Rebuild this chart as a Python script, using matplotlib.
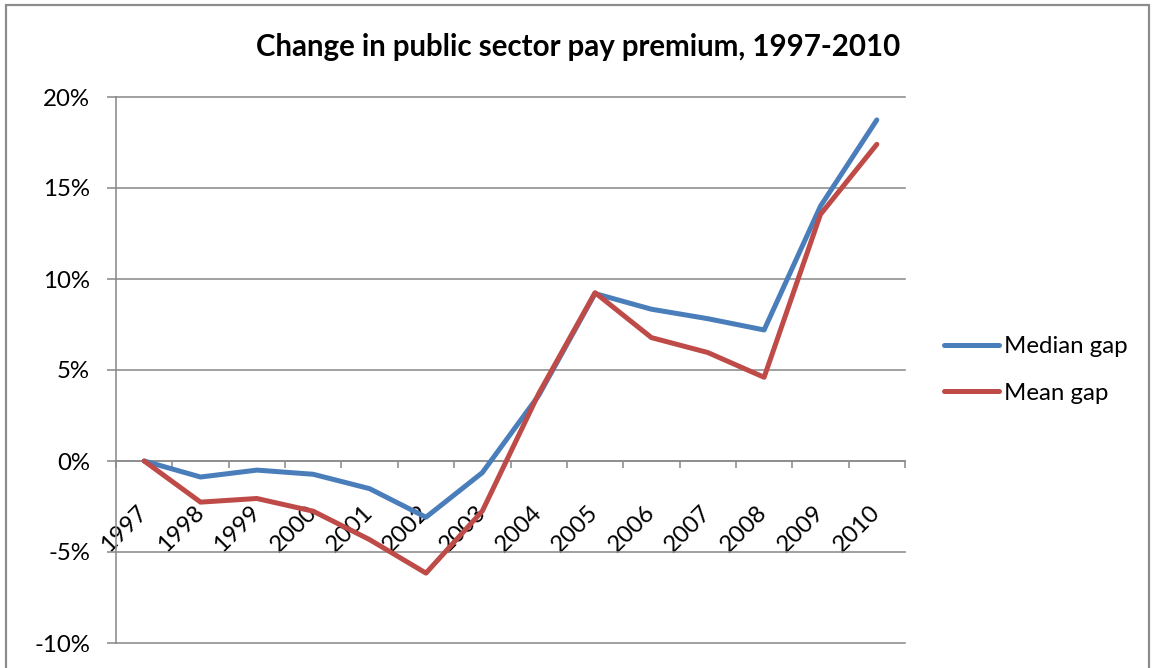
import matplotlib
matplotlib.use("Agg")
import matplotlib.pyplot as plt  # noqa: E402
import matplotlib.transforms as mtransforms  # noqa: E402
from matplotlib.lines import Line2D  # noqa: E402
from matplotlib.patches import Rectangle  # noqa: E402
from matplotlib.ticker import PercentFormatter  # noqa: E402

YEARS = [str(y) for y in range(1997, 2011)]
# change in the public sector pay premium since 1997, percentage points
MEDIAN_GAP = [0.0, -0.88, -0.50, -0.73, -1.52, -3.09, -0.64,
              3.6, 9.2, 8.34, 7.82, 7.2, 14.0, 18.74]
MEAN_GAP = [0.0, -2.26, -2.06, -2.76, -4.32, -6.16, -2.75,
            3.7, 9.25, 6.78, 5.96, 4.6, 13.55, 17.4]
Y_TICKS = [-10, -5, 0, 5, 10, 15, 20]

BLUE = "#4a7ebb"
RED = "#be4b48"
GREY = "#8c8c8c"
FONT = "Lato"

W, H, DPI = 1152, 668, 100


def px(n: float) -> float:
    """pixels -> points"""
    return n * 72 / DPI


def main() -> int:
    plt.rcParams["font.family"] = [FONT, "DejaVu Sans"]
    plt.rcParams["axes.unicode_minus"] = False
    fig = plt.figure(figsize=(W / DPI, H / DPI), dpi=DPI)
    ax = fig.add_axes([116 / W, 1 - 643 / H, (905 - 116) / W, (643 - 97) / H])

    x = list(range(len(YEARS)))
    ax.plot(x, MEDIAN_GAP, color=BLUE, lw=px(5), solid_joinstyle="round",
            solid_capstyle="round", zorder=3)
    ax.plot(x, MEAN_GAP, color=RED, lw=px(5), solid_joinstyle="round",
            solid_capstyle="round", zorder=4)

    ax.set_xlim(-0.5, len(YEARS) - 0.5)
    ax.set_ylim(Y_TICKS[0], Y_TICKS[-1])

    # y axis: grey gridlines every 5%
    ax.set_yticks(Y_TICKS)
    ax.yaxis.set_major_formatter(PercentFormatter(decimals=0))
    ax.yaxis.grid(True, color=GREY, lw=px(1.6))
    for gl in ax.get_ygridlines():
        gl.set_clip_on(False)
    ax.tick_params(axis="y", direction="out", length=px(9), width=px(1.6),
                   color=GREY, pad=px(17), labelsize=px(24))

    # category axis sits on the zero line
    for side in ("top", "right"):
        ax.spines[side].set_visible(False)
    ax.spines["bottom"].set_position(("data", 0))
    for side in ("left", "bottom"):
        ax.spines[side].set_color(GREY)
        ax.spines[side].set_linewidth(px(1.6))

    ax.set_xticks(x)
    ax.set_xticks([i - 0.5 for i in range(len(YEARS) + 1)], minor=True)
    ax.tick_params(axis="x", which="minor", direction="out", length=px(7),
                   width=px(1.6), color=GREY)
    ax.tick_params(axis="x", which="major", length=0, pad=px(48),
                   labelsize=px(24))
    ax.set_xticklabels(YEARS, rotation=45, ha="right", va="center",
                       rotation_mode="anchor")
    shift = mtransforms.ScaledTranslation(0, 0, fig.dpi_scale_trans)
    for lab in ax.get_xticklabels():
        lab.set_transform(lab.get_transform() + shift)

    fig.text(578 / W, 1 - 47 / H, "Change in public sector pay premium, 1997-2010",
             ha="center", va="center", fontsize=px(29.5), fontweight="bold")

    handles = [Line2D([], [], color=BLUE, lw=px(5), solid_capstyle="round"),
               Line2D([], [], color=RED, lw=px(5), solid_capstyle="round")]
    fig.legend(handles, ["Median gap", "Mean gap"], loc="center left",
               bbox_to_anchor=(944 / W, 1 - 370 / H), frameon=False,
               fontsize=px(24), handlelength=2.3, handletextpad=0.2,
               labelspacing=1.05, borderpad=0, borderaxespad=0)

    # chart-area border, open at the bottom edge
    fig.patches.append(Rectangle((6 / W, -0.1), (1149 - 6) / W, 1.1 - 5 / H,
                                 transform=fig.transFigure, fill=False,
                                 edgecolor=GREY, lw=px(2.2), clip_on=False))

    fig.savefig("out.png", dpi=DPI)
    return 0


if __name__ == "__main__":
    raise SystemExit(main())
